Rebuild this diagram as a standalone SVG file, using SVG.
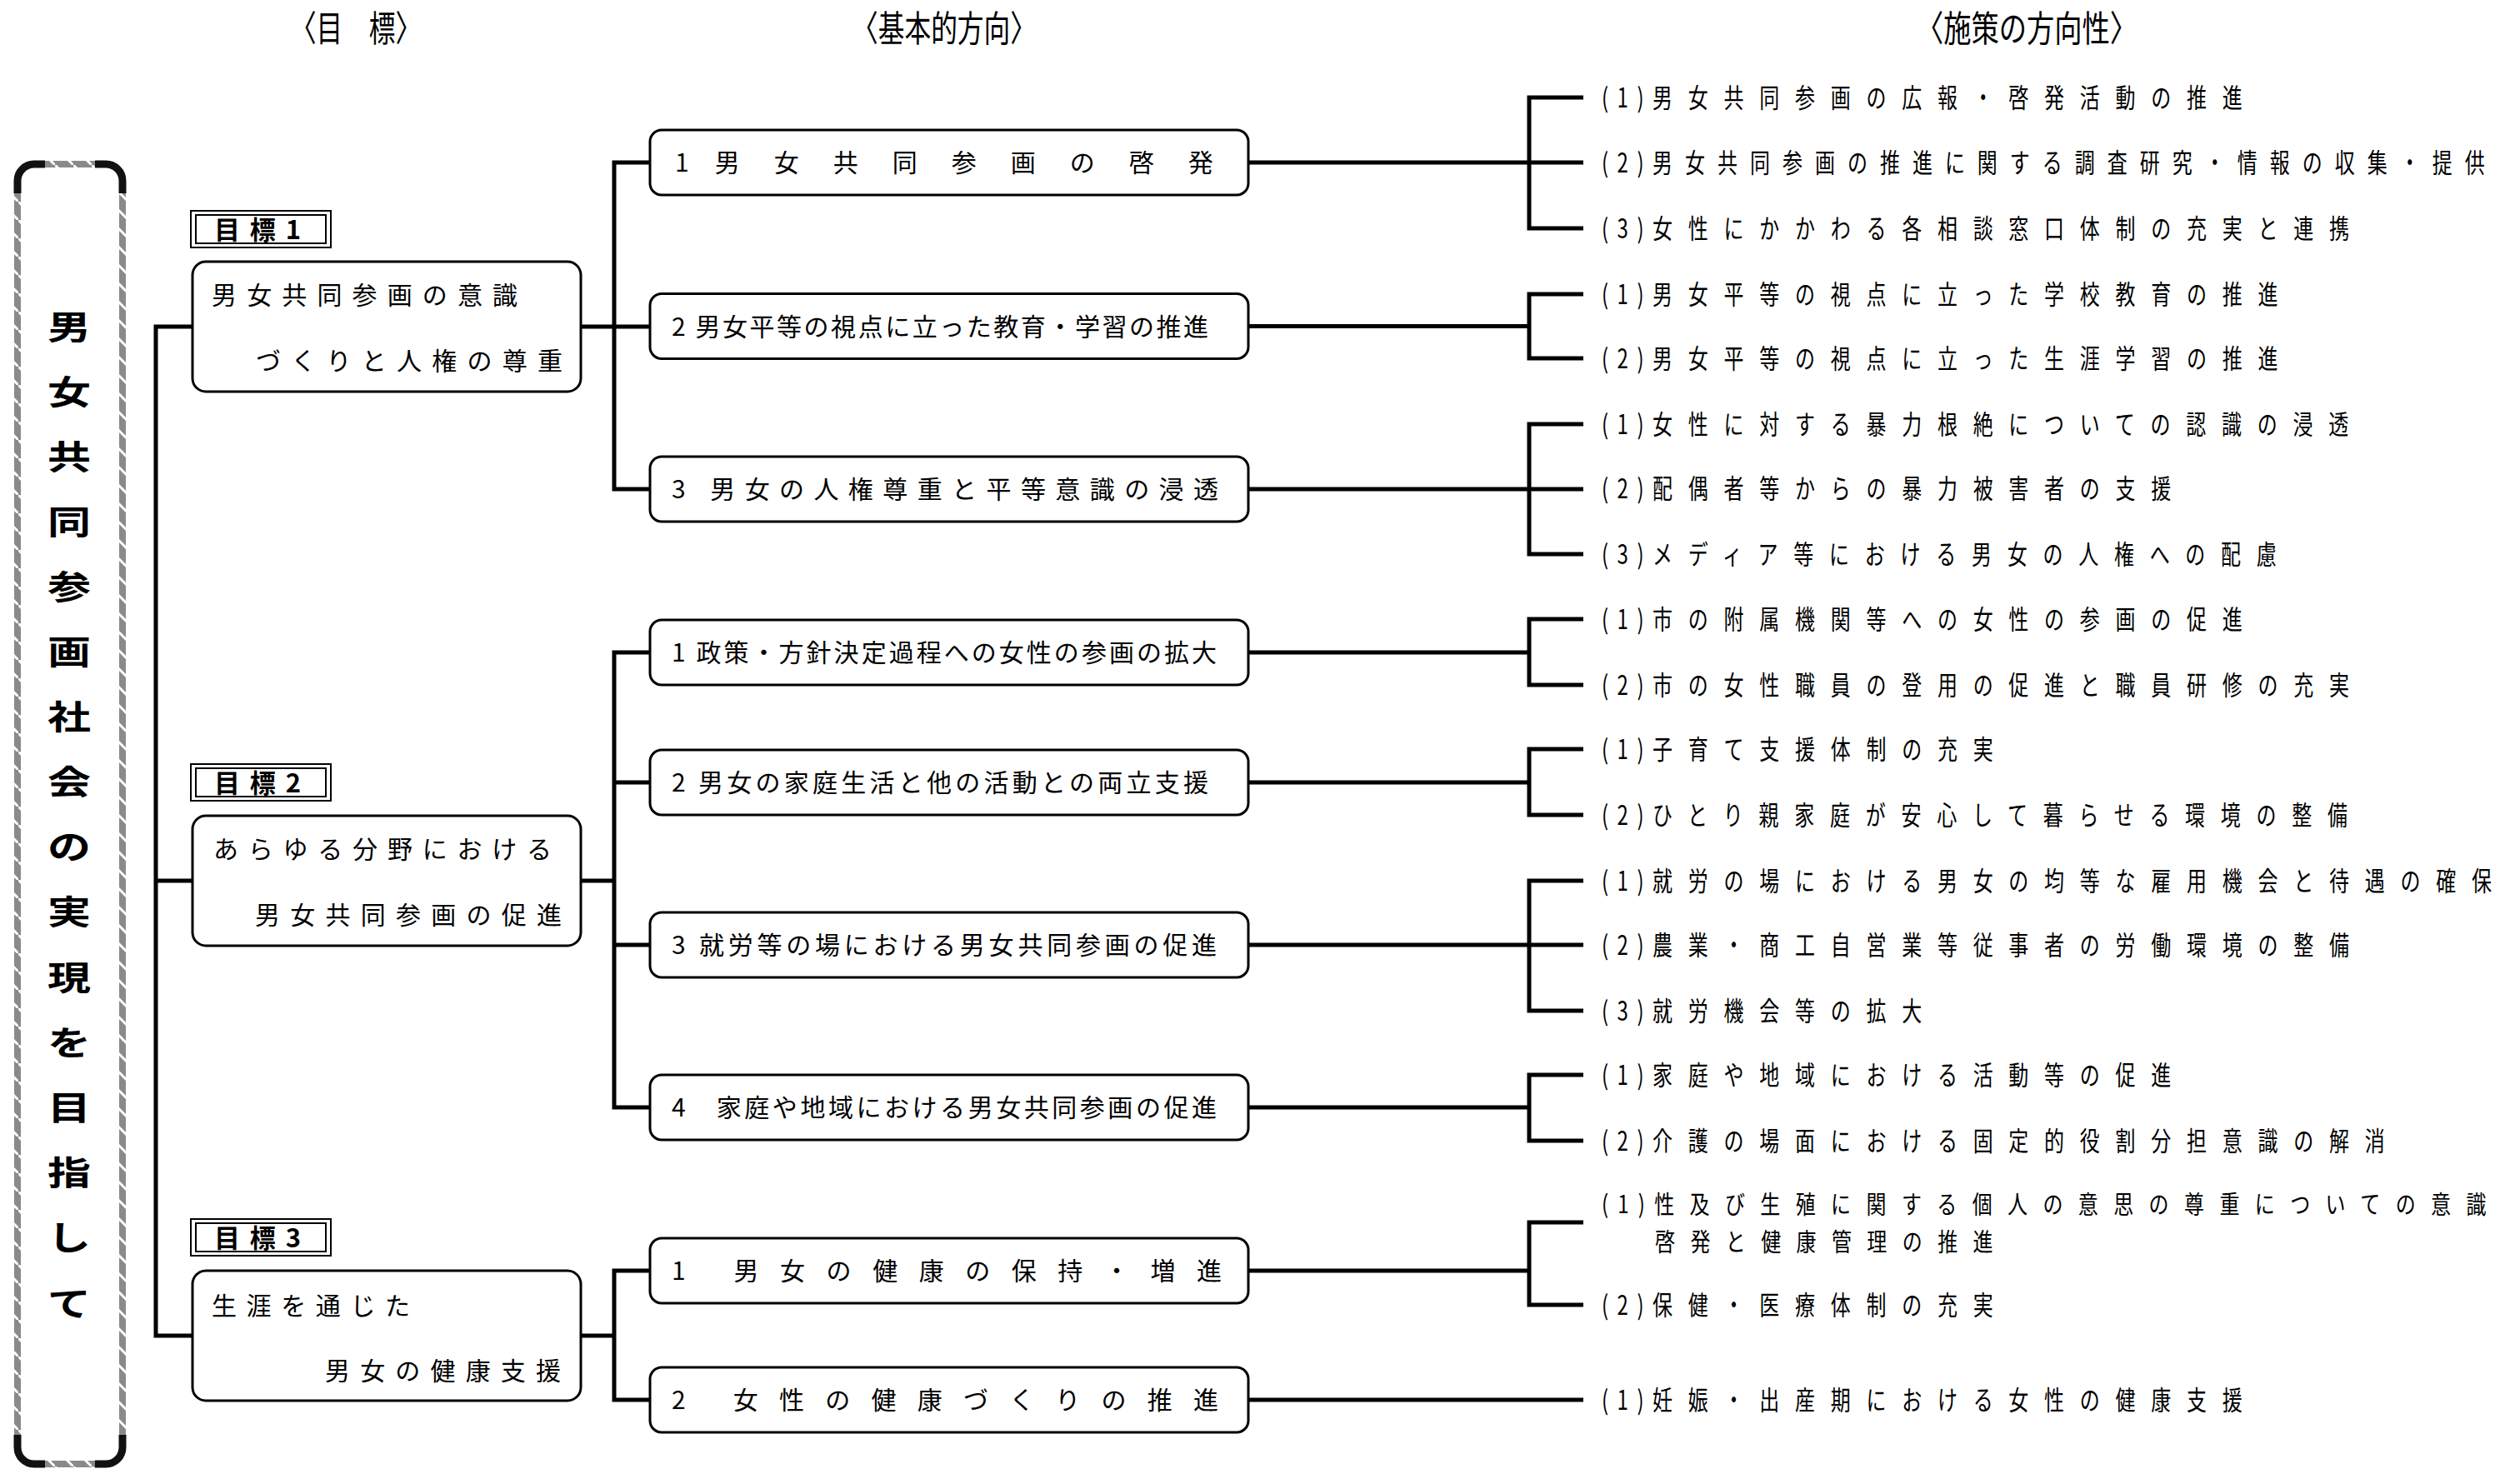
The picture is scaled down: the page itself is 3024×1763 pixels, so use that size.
<svg xmlns="http://www.w3.org/2000/svg" width="3024" height="1763" viewBox="0 0 3024 1763">
<style>
text{font-family:"Noto Sans CJK JP","Noto Sans",sans-serif;fill:#000}
.hd{font-size:43px}
.gt{font-size:30px}
.bt{font-size:30px}
.it{font-size:32px;letter-spacing:25px}
.it2{font-size:32px;letter-spacing:20px}
.it3{font-size:30px;letter-spacing:23px}
.lb{font-size:31px;font-weight:bold}
.vt{font-size:40px;font-weight:bold}
.box{fill:#fff;stroke:#000;stroke-width:3}
.lbl{fill:#fff;stroke:#000;stroke-width:2}
.ln{fill:none;stroke:#000;stroke-width:5}
.frame{fill:none;stroke:url(#hatch);stroke-width:8}
.corner{fill:none;stroke:#111;stroke-width:9}
</style>
<defs>
<pattern id="hatch" patternUnits="userSpaceOnUse" width="22" height="22">
<rect width="22" height="22" fill="#8a8a8a"/>
<path d="M-2,-2 L24,24" stroke="#fff" stroke-width="3"/>
</pattern>
</defs>
<rect width="3024" height="1763" fill="#fff"/>

<g id="headers">
<text class="hd" x="348" y="50" textLength="158" lengthAdjust="spacingAndGlyphs">〈目　標〉</text>
<text class="hd" x="1022" y="50" textLength="222" lengthAdjust="spacingAndGlyphs">〈基本的方向〉</text>
<text class="hd" x="2299" y="50" textLength="266" lengthAdjust="spacingAndGlyphs">〈施策の方向性〉</text>
</g>

<g id="vision">
<rect class="frame" x="21" y="197" width="126" height="1560" rx="20"/>
<path class="corner" d="M21,232 V217 A20,20 0 0 1 41,197 H54 M114,197 H127 A20,20 0 0 1 147,217 V232 M21,1722 V1737 A20,20 0 0 0 41,1757 H54 M114,1757 H127 A20,20 0 0 0 147,1737 V1722"/>
<text class="vt" transform="translate(83,0) scale(1.3,1)" text-anchor="middle"><tspan x="0" y="407">男</tspan><tspan x="0" y="485">女</tspan><tspan x="0" y="563">共</tspan><tspan x="0" y="641">同</tspan><tspan x="0" y="719">参</tspan><tspan x="0" y="797">画</tspan><tspan x="0" y="875">社</tspan><tspan x="0" y="953">会</tspan><tspan x="0" y="1031">の</tspan><tspan x="0" y="1109">実</tspan><tspan x="0" y="1188">現</tspan><tspan x="0" y="1266">を</tspan><tspan x="0" y="1344">目</tspan><tspan x="0" y="1422">指</tspan><tspan x="0" y="1500">し</tspan><tspan x="0" y="1579">て</tspan></text>
</g>

<g id="connectors">
<path class="ln" d="M231,392 H187 V1603 H231 M187,1057 H231"/>
<path class="ln" d="M697,392 H737 M780,195 H737 V587 H780 M737,392 H780"/>
<path class="ln" d="M697,1057 H737 M780,783 H737 V1329 H780 M737,939 H780 M737,1134 H780"/>
<path class="ln" d="M697,1603 H737 M780,1525 H737 V1680 H780"/>
<path class="ln" d="M1498,195 H1835 M1900,117 H1835 V274 H1900 M1835,195 H1900"/>
<path class="ln" d="M1498,391.5 H1835 M1900,353 H1835 V430 H1900"/>
<path class="ln" d="M1498,587 H1835 M1900,509 H1835 V665 H1900 M1835,587 H1900"/>
<path class="ln" d="M1498,783 H1835 M1900,743 H1835 V822 H1900"/>
<path class="ln" d="M1498,939 H1835 M1900,899 H1835 V978 H1900"/>
<path class="ln" d="M1498,1134 H1835 M1900,1057 H1835 V1213 H1900 M1835,1134 H1900"/>
<path class="ln" d="M1498,1329 H1835 M1900,1290 H1835 V1369 H1900"/>
<path class="ln" d="M1498,1525 H1835 M1900,1467 H1835 V1566 H1900"/>
<path class="ln" d="M1498,1680 H1900"/>
</g>

<g id="goal1">
<rect class="lbl" x="229" y="253" width="168" height="44"/>
<rect class="lbl" x="235" y="258" width="156" height="34"/>
<text class="lb" x="257" y="287" textLength="104" lengthAdjust="spacing">目標1</text>
<rect class="box" x="231" y="314" width="466" height="156" rx="16"/>
<text class="gt" x="254" y="365" textLength="367">男女共同参画の意識</text>
<text class="gt" x="307" y="444" textLength="368">づくりと人権の尊重</text>
</g>
<g id="goal2">
<rect class="lbl" x="229" y="917" width="168" height="44"/>
<rect class="lbl" x="235" y="922" width="156" height="34"/>
<text class="lb" x="257" y="951" textLength="104" lengthAdjust="spacing">目標2</text>
<rect class="box" x="231" y="979" width="466" height="156" rx="16"/>
<text class="gt" x="256" y="1030" textLength="406">あらゆる分野における</text>
<text class="gt" x="306" y="1109" textLength="368">男女共同参画の促進</text>
</g>
<g id="goal3">
<rect class="lbl" x="229" y="1463" width="168" height="44"/>
<rect class="lbl" x="235" y="1468" width="156" height="34"/>
<text class="lb" x="257" y="1497" textLength="104" lengthAdjust="spacing">目標3</text>
<rect class="box" x="231" y="1525" width="466" height="156" rx="16"/>
<text class="gt" x="254" y="1578" textLength="238">生涯を通じた</text>
<text class="gt" x="390" y="1656" textLength="283">男女の健康支援</text>
</g>

<g id="dir1-1"><rect class="box" x="780" y="156" width="718" height="78" rx="14"/><text class="bt" x="810" y="206" letter-spacing="41"><tspan letter-spacing="31">1</tspan>男女共同参画の啓発</text></g>
<g id="dir1-2"><rect class="box" x="780" y="352.5" width="718" height="78" rx="14"/><text class="bt" x="806" y="402.5" textLength="644">2 男女平等の視点に立った教育・学習の推進</text></g>
<g id="dir1-3"><rect class="box" x="780" y="548" width="718" height="78" rx="14"/><text class="bt" x="806" y="598" textLength="656">3 男女の人権尊重と平等意識の浸透</text></g>
<g id="dir2-1"><rect class="box" x="780" y="744" width="718" height="78" rx="14"/><text class="bt" x="806" y="794" textLength="654">1 政策・方針決定過程への女性の参画の拡大</text></g>
<g id="dir2-2"><rect class="box" x="780" y="900" width="718" height="78" rx="14"/><text class="bt" x="806" y="950" textLength="644">2 男女の家庭生活と他の活動との両立支援</text></g>
<g id="dir2-3"><rect class="box" x="780" y="1095" width="718" height="78" rx="14"/><text class="bt" x="806" y="1145" textLength="654">3 就労等の場における男女共同参画の促進</text></g>
<g id="dir2-4"><rect class="box" x="780" y="1290" width="718" height="78" rx="14"/><text class="bt" x="806" y="1340" textLength="654">4　家庭や地域における男女共同参画の促進</text></g>
<g id="dir3-1"><rect class="box" x="780" y="1486" width="718" height="78" rx="14"/><text class="bt" x="806" y="1536" textLength="660">1 男女の健康の保持・増進</text></g>
<g id="dir3-2"><rect class="box" x="780" y="1641" width="718" height="78" rx="14"/><text class="bt" x="806" y="1691" textLength="656">2 女性の健康づくりの推進</text></g>

<g id="measures">
<text class="it" transform="translate(1922,129) scale(0.75,1)"><tspan letter-spacing="14">(1)</tspan>男女共同参画の広報・啓発活動の推進</text>
<text class="it2" transform="translate(1922,207) scale(0.75,1)"><tspan letter-spacing="14">(2)</tspan>男女共同参画の推進に関する調査研究・情報の収集・提供</text>
<text class="it" transform="translate(1922,286) scale(0.75,1)"><tspan letter-spacing="14">(3)</tspan>女性にかかわる各相談窓口体制の充実と連携</text>
<text class="it" transform="translate(1922,365) scale(0.75,1)"><tspan letter-spacing="14">(1)</tspan>男女平等の視点に立った学校教育の推進</text>
<text class="it" transform="translate(1922,442) scale(0.75,1)"><tspan letter-spacing="14">(2)</tspan>男女平等の視点に立った生涯学習の推進</text>
<text class="it" transform="translate(1922,521) scale(0.75,1)"><tspan letter-spacing="14">(1)</tspan>女性に対する暴力根絶についての認識の浸透</text>
<text class="it" transform="translate(1922,598) scale(0.75,1)"><tspan letter-spacing="14">(2)</tspan>配偶者等からの暴力被害者の支援</text>
<text class="it" transform="translate(1922,677) scale(0.75,1)"><tspan letter-spacing="14">(3)</tspan>メディア等における男女の人権への配慮</text>
<text class="it" transform="translate(1922,755) scale(0.75,1)"><tspan letter-spacing="14">(1)</tspan>市の附属機関等への女性の参画の促進</text>
<text class="it" transform="translate(1922,834) scale(0.75,1)"><tspan letter-spacing="14">(2)</tspan>市の女性職員の登用の促進と職員研修の充実</text>
<text class="it" transform="translate(1922,911) scale(0.75,1)"><tspan letter-spacing="14">(1)</tspan>子育て支援体制の充実</text>
<text class="it" transform="translate(1922,990) scale(0.75,1)"><tspan letter-spacing="14">(2)</tspan>ひとり親家庭が安心して暮らせる環境の整備</text>
<text class="it" transform="translate(1922,1069) scale(0.75,1)"><tspan letter-spacing="14">(1)</tspan>就労の場における男女の均等な雇用機会と待遇の確保</text>
<text class="it" transform="translate(1922,1146) scale(0.75,1)"><tspan letter-spacing="14">(2)</tspan>農業・商工自営業等従事者の労働環境の整備</text>
<text class="it" transform="translate(1922,1225) scale(0.75,1)"><tspan letter-spacing="14">(3)</tspan>就労機会等の拡大</text>
<text class="it" transform="translate(1922,1302) scale(0.75,1)"><tspan letter-spacing="14">(1)</tspan>家庭や地域における活動等の促進</text>
<text class="it" transform="translate(1922,1381) scale(0.75,1)"><tspan letter-spacing="14">(2)</tspan>介護の場面における固定的役割分担意識の解消</text>
<text class="it3" transform="translate(1922,1456) scale(0.8,1)"><tspan letter-spacing="14">(1)</tspan>性及び生殖に関する個人の意思の尊重についての意識</text>
<text class="it3" transform="translate(1986,1501) scale(0.8,1)" letter-spacing="23.5">啓発と健康管理の推進</text>
<text class="it" transform="translate(1922,1578) scale(0.75,1)"><tspan letter-spacing="14">(2)</tspan>保健・医療体制の充実</text>
<text class="it" transform="translate(1922,1692) scale(0.75,1)"><tspan letter-spacing="14">(1)</tspan>妊娠・出産期における女性の健康支援</text>
</g>
</svg>
